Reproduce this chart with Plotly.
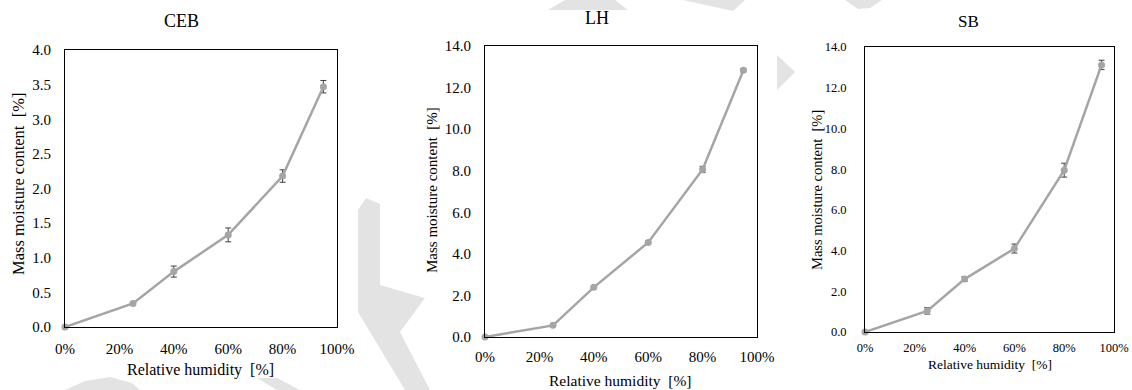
import plotly.graph_objects as go

# Sorption data: relative humidity steps and mass moisture content (mean, std)
rh = [0, 25, 40, 60, 80, 95]

ceb_mc = [0.0, 0.34, 0.80, 1.33, 2.18, 3.47]
ceb_err = [0.0, 0.02, 0.08, 0.10, 0.09, 0.09]

lh_mc = [0.0, 0.56, 2.39, 4.55, 8.06, 12.83]
lh_err = [0.0, 0.04, 0.06, 0.07, 0.15, 0.08]

sb_mc = [0.0, 1.04, 2.60, 4.10, 7.95, 13.12]
sb_err = [0.0, 0.16, 0.12, 0.22, 0.34, 0.23]

panel_titles = ["CEB", "LH", "SB"]
x_title = "Relative humidity  [%]"
y_title = "Mass moisture content  [%]"

W, H = 1132, 390
FONT = "Liberation Serif"
LINE = "#a5a5a5"


def px(x):
    return x / W


def py(y):
    return 1 - y / H


# Plot boxes in pixels: (left, right, top, bottom)
boxes = [(65, 337, 50, 327), (485, 757, 46, 337), (865, 1114, 47, 332)]
y_ranges = [[0, 4], [0, 14], [0, 14]]
y_dticks = [0.5, 2, 2]
tick_sizes = [15, 15, 12.5]
x_standoff = [8, 6, 4]
y_standoff = [10, 10, 15]
series = [(ceb_mc, ceb_err), (lh_mc, lh_err), (sb_mc, sb_err)]

fig = go.Figure()
for i, ((vals, errs), box) in enumerate(zip(series, boxes)):
    n = "" if i == 0 else str(i + 1)
    fig.add_trace(go.Scatter(
        x=rh, y=vals,
        xaxis="x" + n, yaxis="y" + n,
        mode="lines+markers",
        line=dict(color=LINE, width=2.5),
        marker=dict(color=LINE, size=7),
        error_y=dict(type="data", array=errs, visible=True,
                     color="#404040", thickness=1, width=3),
        cliponaxis=False,
        showlegend=False,
    ))
    l, r, t, b = box
    common = dict(showline=True, linecolor="black", linewidth=1, mirror=True,
                  showgrid=False, zeroline=False, ticks="", automargin=False,
                  tickfont=dict(family=FONT, size=tick_sizes[i], color="black"))
    fig.update_layout(**{
        "xaxis" + n: dict(domain=[px(l), px(r)], range=[0, 100], dtick=20,
                          ticksuffix="%", anchor="y" + n,
                          ticklabelstandoff=x_standoff[i], **common),
        "yaxis" + n: dict(domain=[py(b), py(t)], range=y_ranges[i],
                          dtick=y_dticks[i], tickformat=".1f", anchor="x" + n,
                          ticklabelstandoff=y_standoff[i], **common),
    })

# Panel headings and axis titles
heads = [(181, 21, 18), (597, 18, 18), (968, 21, 17)]
ytitle_pos = [(18, 184, 16.5), (432, 190, 15), (817, 190, 14.5)]
xtitle_pos = [(200, 370, 16), (620, 380, 15.5), (990, 364, 13.5)]
ann = []
for i in range(3):
    hx, hy, hs = heads[i]
    ann.append(dict(x=px(hx), y=py(hy), text=panel_titles[i], showarrow=False,
                    xref="paper", yref="paper", xanchor="center", yanchor="middle",
                    font=dict(family=FONT, size=hs, color="black")))
    ax_, ay_, asz = ytitle_pos[i]
    ann.append(dict(x=px(ax_), y=py(ay_), text=y_title, showarrow=False, textangle=-90,
                    xref="paper", yref="paper", xanchor="center", yanchor="middle",
                    font=dict(family=FONT, size=asz, color="black")))
    bx, by, bsz = xtitle_pos[i]
    ann.append(dict(x=px(bx), y=py(by), text=x_title, showarrow=False,
                    xref="paper", yref="paper", xanchor="center", yanchor="middle",
                    font=dict(family=FONT, size=bsz, color="black")))

# Faint background watermark pieces (drawn beneath the white plot areas)
wm_polys = [
    [(358, 210), (366, 198), (380, 204), (380, 285), (425, 298), (400, 332),
     (430, 390), (405, 390), (358, 312)],
    [(565, 0), (615, 0), (628, 10), (548, 10)],
    [(683, 0), (745, 0), (733, 11)],
    [(845, 0), (882, 0), (870, 8), (858, 9)],
    [(777, 55), (795, 72), (777, 90)],
    [(65, 390), (85, 381), (110, 377), (132, 383), (140, 390)],
    [(257, 378), (277, 378), (300, 390), (277, 390)],
]
shapes = []
for poly in wm_polys:
    d = "M " + " L ".join(f"{px(x):.5f},{py(y):.5f}" for x, y in poly) + " Z"
    shapes.append(dict(type="path", path=d, xref="paper", yref="paper",
                       fillcolor="#e3e3e3", line=dict(width=0), layer="below"))

fig.update_layout(
    width=W, height=H,
    margin=dict(l=0, r=0, t=0, b=0),
    paper_bgcolor="white", plot_bgcolor="white",
    annotations=ann, shapes=shapes,
    font=dict(family=FONT, color="black"),
)

fig.write_html("out.html", post_script="document.body.style.margin='0';")
